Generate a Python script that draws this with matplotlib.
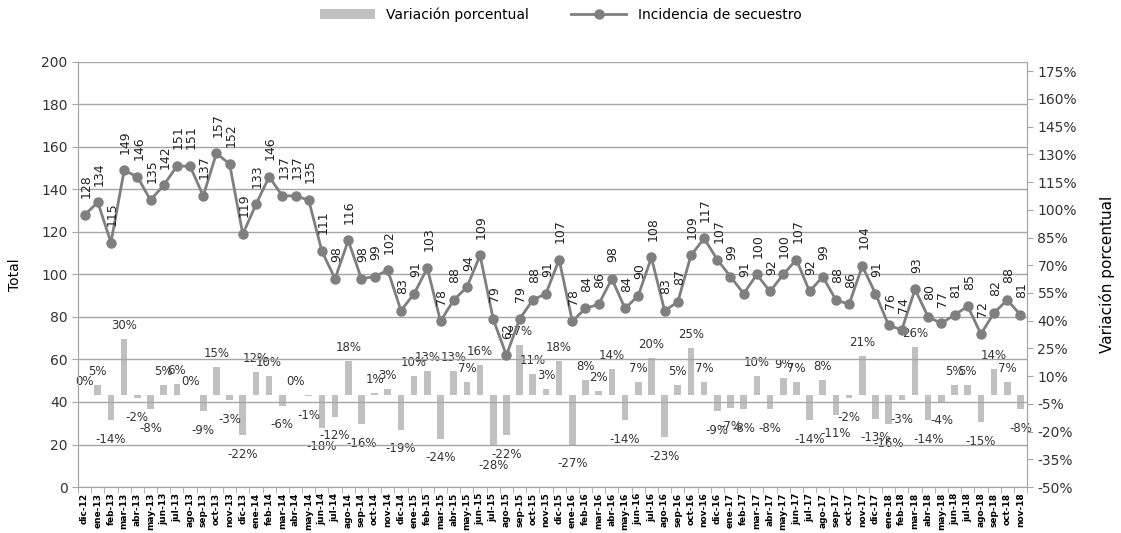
##==============================================================================
## Incidencia de secuestro (monthly totals) with percentage variation bars
##==============================================================================
import numpy as np
import matplotlib
matplotlib.use('Agg')
from matplotlib import pyplot as plt
from matplotlib.lines import Line2D
from matplotlib.patches import Patch
##==============================================================================

months = ['dic-12',
          'ene-13', 'feb-13', 'mar-13', 'abr-13', 'may-13', 'jun-13',
          'jul-13', 'ago-13', 'sep-13', 'oct-13', 'nov-13', 'dic-13',
          'ene-14', 'feb-14', 'mar-14', 'abr-14', 'may-14', 'jun-14',
          'jul-14', 'ago-14', 'sep-14', 'oct-14', 'nov-14', 'dic-14',
          'ene-15', 'feb-15', 'mar-15', 'abr-15', 'may-15', 'jun-15',
          'jul-15', 'ago-15', 'sep-15', 'oct-15', 'nov-15', 'dic-15',
          'ene-16', 'feb-16', 'mar-16', 'abr-16', 'may-16', 'jun-16',
          'jul-16', 'ago-16', 'sep-16', 'oct-16', 'nov-16', 'dic-16',
          'ene-17', 'feb-17', 'mar-17', 'abr-17', 'may-17', 'jun-17',
          'jul-17', 'ago-17', 'sep-17', 'oct-17', 'nov-17', 'dic-17',
          'ene-18', 'feb-18', 'mar-18', 'abr-18', 'may-18', 'jun-18',
          'jul-18', 'ago-18', 'sep-18', 'oct-18', 'nov-18']

incidencia = [128,
              134, 115, 149, 146, 135, 142, 151, 151, 137, 157, 152, 119,
              133, 146, 137, 137, 135, 111, 98, 116, 98, 99, 102, 83,
              91, 103, 78, 88, 94, 109, 79, 62, 79, 88, 91, 107,
              78, 84, 86, 98, 84, 90, 108, 83, 87, 109, 117, 107,
              99, 91, 100, 92, 100, 107, 92, 99, 88, 86, 104, 91,
              76, 74, 93, 80, 77, 81, 85, 72, 82, 88, 81]

variacion = [0,
             5, -14, 30, -2, -8, 5, 6, 0, -9, 15, -3, -22,
             12, 10, -6, 0, -1, -18, -12, 18, -16, 1, 3, -19,
             10, 13, -24, 13, 7, 16, -28, -22, 27, 11, 3, 18,
             -27, 8, 2, 14, -14, 7, 20, -23, 5, 25, 7, -9,
             -7, -8, 10, -8, 9, 7, -14, 8, -11, -2, 21, -13,
             -16, -3, 26, -14, -4, 5, 5, -15, 14, 7, -8]

left_ticks = [0, 20, 40, 60, 80, 100, 120, 140, 160, 180, 200]
right_ticks = [-50, -35, -20, -5, 10, 25, 40, 55, 70, 85, 100, 115, 130,
               145, 160, 175]

##==============================================================================
line_col = '#7f7f7f'
bar_col = '#c0c0c0'
grid_col = '#a6a6a6'

def plot_secuestro():
    x = np.arange(len(months))

    fig = plt.figure(figsize = (11.21, 5.33), dpi = 100)
    ax = fig.add_axes([0.0696, 0.0863, 0.8466, 0.7974])
    ax2 = ax.twinx()

    # bars go on the secondary axis but must sit behind the line
    ax2.set_zorder(1)
    ax.set_zorder(2)
    ax.patch.set_visible(False)

    ax2.bar(x, variacion, width = 0.5, color = bar_col, zorder = 2)
    for xi, v in zip(x, variacion):
        if v >= 0:
            ax2.annotate('%d%%' % v, (xi, v), xytext = (0, 5),
                         textcoords = 'offset points', ha = 'center',
                         va = 'bottom', fontsize = 8.5, color = '#333333')
        else:
            ax2.annotate('%d%%' % v, (xi, v), xytext = (0, -9),
                         textcoords = 'offset points', ha = 'center',
                         va = 'top', fontsize = 8.5, color = '#333333')

    ax.plot(x, incidencia, color = line_col, lw = 2, marker = 'o',
            markersize = 6.5, zorder = 3)
    for xi, v in zip(x, incidencia):
        ax.annotate('%d' % v, (xi, v), xytext = (1, 12),
                    textcoords = 'offset points', ha = 'center',
                    va = 'bottom', rotation = 90, fontsize = 9,
                    color = '#222222')

    # left axis
    ax.set_xlim(-0.5, len(months) - 0.5)
    ax.set_ylim(0, 200)
    ax.set_yticks(left_ticks)
    ax.yaxis.grid(True, color = grid_col, lw = 1)
    ax.set_axisbelow(True)
    ax.set_ylabel('Total', fontsize = 10, labelpad = 14)
    ax.tick_params(axis = 'y', labelsize = 10, color = grid_col,
                   direction = 'out', length = 4, labelcolor = '#333333')

    # category labels, tick marks between categories like excel
    ax.set_xticks(x)
    ax.set_xticklabels(months, rotation = 90, fontsize = 6.5,
                       fontweight = 'bold')
    ax.set_xticks(np.arange(-0.5, len(months), 1), minor = True)
    ax.tick_params(axis = 'x', which = 'major', length = 0, pad = 4)
    ax.tick_params(axis = 'x', which = 'minor', length = 4, color = grid_col)

    # right axis
    ax2.set_ylim(-50, 180)
    ax2.set_yticks(right_ticks)
    ax2.set_yticklabels(['%d%%' % t for t in right_ticks])
    ax2.tick_params(axis = 'y', labelsize = 10, color = grid_col,
                    direction = 'out', length = 4, labelcolor = '#333333')
    ax2.set_ylabel('Variación porcentual', fontsize = 11, labelpad = 16)

    for a in (ax, ax2):
        for s in a.spines.values():
            s.set_color(grid_col)
        a.spines['top'].set_visible(False)

    handles = [Patch(facecolor = bar_col, edgecolor = 'none'),
               Line2D([], [], color = line_col, lw = 2, marker = 'o',
                      markersize = 6.5)]
    fig.legend(handles, ['Variación porcentual', 'Incidencia de secuestro'],
               loc = 'upper center', bbox_to_anchor = (0.5, 1.01), ncol = 2,
               frameon = False, fontsize = 10, handlelength = 4,
               columnspacing = 3)

    plt.savefig('out.png', dpi = 100)

if __name__ == '__main__':
    plot_secuestro()
